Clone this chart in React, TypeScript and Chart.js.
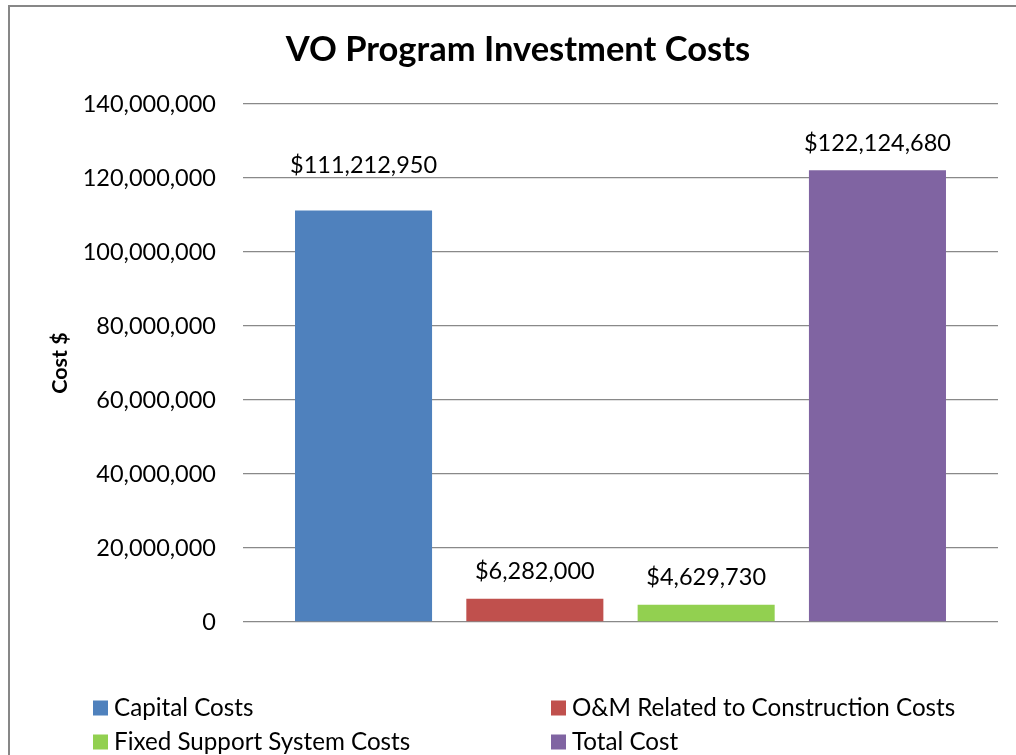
import React, { useEffect, useRef } from "react";
import { Chart, registerables } from "chart.js";

Chart.register(...registerables);

const FONT = "Lato";
const chartTitle = "VO Program Investment Costs";
const yAxisTitle = "Cost $";
const categories = [""];
const seriesLabels = [
  "Capital Costs",
  "O&M Related to Construction Costs",
  "Fixed Support System Costs",
  "Total Cost",
];
const seriesValues = [111212950, 6282000, 4629730, 122124680];
const seriesColors = ["#4F81BD", "#C0504D", "#92D050", "#8064A2"];
const yMin = 0;
const yMax = 140000000;
const yStep = 20000000;

const TEXT_SIZE = 23.5;
const LEGEND_SIZE = 24.2;

const dataLabelPlugin = {
  id: "dataLabels",
  afterDatasetsDraw(chart: any) {
    const ctx = chart.ctx;
    ctx.save();
    ctx.font = `${TEXT_SIZE}px ${FONT}`;
    ctx.fillStyle = "#000";
    ctx.textAlign = "center";
    ctx.textBaseline = "middle";
    chart.data.datasets.forEach((ds: any, i: number) => {
      const meta = chart.getDatasetMeta(i);
      meta.data.forEach((el: any, j: number) => {
        const v = ds.data[j] as number;
        const off = ds.labelOffset ?? 27;
        ctx.fillText("$" + v.toLocaleString("en-US"), el.x, el.y - off);
      });
    });
    ctx.restore();
  },
};

const gridLegendPlugin = {
  id: "gridLegend",
  afterDraw(chart: any) {
    const ctx = chart.ctx;
    const colX = [93, 551];
    const rowY = [708, 742];
    const box = 15;
    ctx.save();
    ctx.font = `${LEGEND_SIZE}px ${FONT}`;
    ctx.textAlign = "left";
    ctx.textBaseline = "middle";
    chart.data.datasets.forEach((ds: any, i: number) => {
      const x = colX[i % 2];
      const y = rowY[Math.floor(i / 2)];
      ctx.fillStyle = ds.backgroundColor;
      ctx.fillRect(x, y - box / 2, box, box);
      ctx.fillStyle = "#000";
      ctx.fillText(ds.label, x + box + 6, y);
    });
    ctx.restore();
  },
};

export default function App() {
  const canvasRef = useRef<HTMLCanvasElement | null>(null);

  useEffect(() => {
    document.body.style.overflow = "hidden";
    const canvas = canvasRef.current;
    if (!canvas) return;
    const chart = new Chart(canvas, {
      type: "bar",
      data: {
        labels: categories,
        datasets: seriesLabels.map((label, i) => ({
          label,
          data: [seriesValues[i]],
          backgroundColor: seriesColors[i],
          borderWidth: 0,
          categoryPercentage: 0.9076,
          barPercentage: 0.8,
          labelOffset: i === 0 ? 45 : 27,
        })) as any,
      },
      options: {
        responsive: false,
        animation: false,
        layout: { padding: { left: 38, right: 18, top: 0, bottom: 133 } },
        plugins: {
          legend: { display: false },
          tooltip: { enabled: false },
          title: {
            display: true,
            text: chartTitle,
            color: "#000",
            font: { family: FONT, size: 34.5, weight: "bold", lineHeight: 1.2 },
            padding: { top: 29.3, bottom: 33.3 },
          },
        },
        scales: {
          x: { display: false },
          y: {
            min: yMin,
            max: yMax,
            afterFit(scale: any) {
              scale.width = 205;
            },
            ticks: {
              stepSize: yStep,
              padding: 27,
              color: "#000",
              font: { family: FONT, size: TEXT_SIZE },
              callback: (v: any) => Number(v).toLocaleString("en-US"),
            },
            grid: { color: "#898989", lineWidth: 1.3, drawTicks: false },
            border: { display: false },
            title: {
              display: true,
              text: yAxisTitle,
              color: "#000",
              font: { family: FONT, size: 21.5, weight: "bold", lineHeight: 1.2 },
              padding: { top: 9, bottom: 0 },
            },
          },
        },
      },
      plugins: [dataLabelPlugin, gridLegendPlugin],
    });
    return () => chart.destroy();
  }, []);

  return (
    <div
      style={{
        position: "fixed",
        left: 0,
        top: 0,
        width: 1016,
        height: 755,
        overflow: "hidden",
        background: "#fff",
      }}
    >
      <div
        style={{
          position: "absolute",
          left: 8,
          top: 5,
          width: 1100,
          height: 900,
          borderLeft: "2px solid #878787",
          borderTop: "2px solid #878787",
        }}
      />
      <canvas
        ref={canvasRef}
        width={1016}
        height={755}
        style={{ position: "absolute", left: 0, top: 0, width: 1016, height: 755 }}
      />
    </div>
  );
}
